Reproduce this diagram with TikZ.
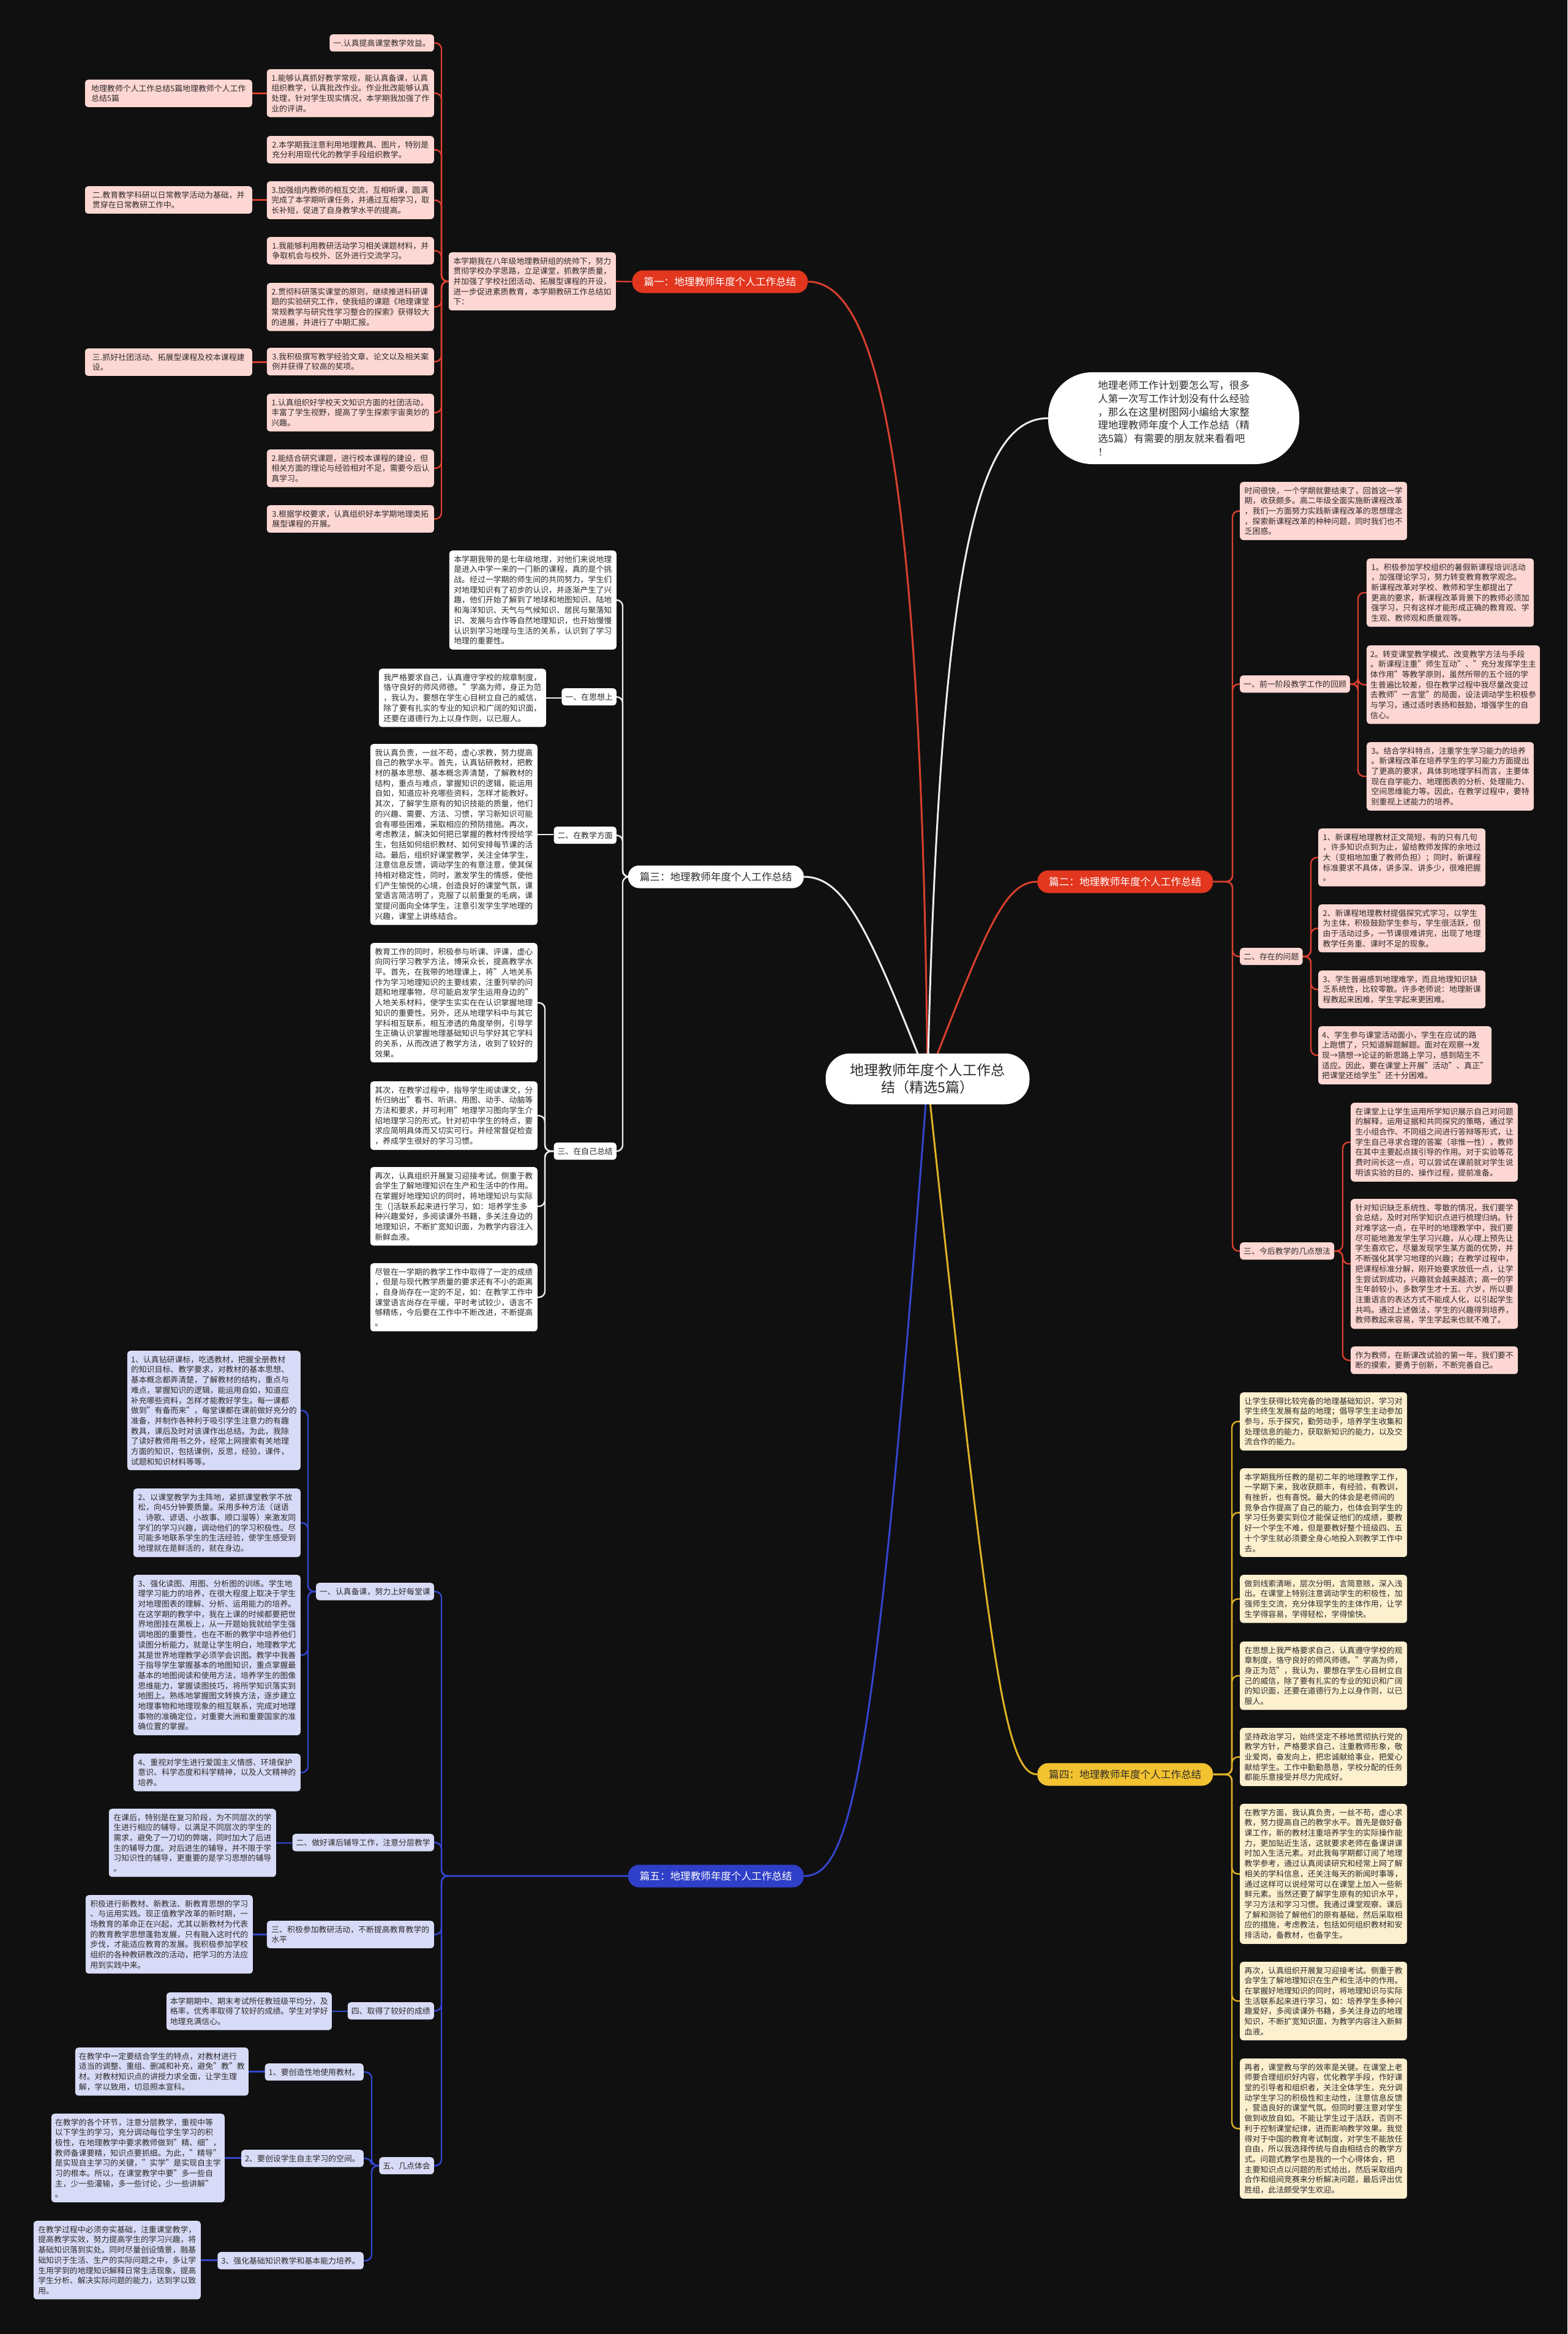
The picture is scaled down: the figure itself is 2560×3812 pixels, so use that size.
\documentclass[tikz,border=0pt]{standalone}
\usepackage{fontspec}
\setmainfont{Noto Sans CJK SC}
\pgfdeclarelayer{bottom}
\pgfdeclarelayer{lines}
\pgfsetlayers{bottom,lines,main}
\definecolor{bgc}{HTML}{101010}
\definecolor{redc}{HTML}{E2361F}
\definecolor{redl}{HTML}{D9402E}
\definecolor{pinkf}{HTML}{FDD7D3}
\definecolor{txtc}{HTML}{2E2B2B}
\definecolor{whl}{HTML}{EDEDED}
\definecolor{goldc}{HTML}{F2C230}
\definecolor{goldl}{HTML}{E0B225}
\definecolor{creamf}{HTML}{FCF0CF}
\definecolor{bluec}{HTML}{2F3FC8}
\definecolor{bluel}{HTML}{3446CF}
\definecolor{lavf}{HTML}{D8DBF7}
\newcommand\fsbox{\fontsize{12.9}{16.7}\selectfont}
\tikzset{
 box/.style={rounded corners=5pt, inner xsep=6pt, inner ysep=8pt, align=left, font=\fsbox, text=txtc},
 pbox/.style={box, fill=pinkf},
 wbox/.style={box, fill=white},
 cbox/.style={box, fill=creamf},
 lbox/.style={box, fill=lavf},
 wide/.style={minimum width=273pt},
 lab/.style={rounded corners=18pt, minimum height=37pt, inner xsep=19pt, font=\fontsize{16.6}{20}\selectfont},
 rcon/.style={draw=redl, line width=2.4pt, rounded corners=10pt},
 wcon/.style={draw=whl, line width=2.4pt, rounded corners=10pt},
 ycon/.style={draw=goldl, line width=2.4pt, rounded corners=10pt},
 bcon/.style={draw=bluel, line width=2.4pt, rounded corners=10pt},
 mainl/.style={line width=3pt},
}
\begin{document}
\begin{tikzpicture}[x=1pt,y=-1pt]
\begin{pgfonlayer}{bottom}
\fill[bgc] (0,0) rectangle (2560,3812);
\end{pgfonlayer}
\useasboundingbox (0,0) rectangle (2560,3812);

% ---------- centre ----------
\node[fill=white, rounded corners=40pt, minimum width=333pt, minimum height=83pt, align=center, text=txtc,
  font=\fontsize{23}{28}\selectfont] (C) at (1515,1762) {地理教师年度个人工作总\\结（精选5篇）};
\node[fill=white, rounded corners=72pt, minimum width=410pt, minimum height=150pt, align=left, text=txtc,
  font=\fontsize{16.5}{21.7}\selectfont] (IB) at (1917,683) {地理老师工作计划要怎么写，很多\\人第一次写工作计划没有什么经验\\，那么在这里树图网小编给大家整\\理地理教师年度个人工作总结（精\\选5篇）有需要的朋友就来看看吧\\！};

% ---------- labels ----------
\node[lab, fill=redc, text=white] (L1) at (1176,460) {篇一：地理教师年度个人工作总结};
\node[lab, fill=redc, text=white, anchor=west] (L2) at (1694,1440) {篇二：地理教师年度个人工作总结};
\node[lab, fill=white, text=txtc, anchor=east] (L3) at (1313,1432) {篇三：地理教师年度个人工作总结};
\node[lab, fill=goldc, text=txtc, anchor=west] (L4) at (1694,2898) {篇四：地理教师年度个人工作总结};
\node[lab, fill=bluec, text=white, anchor=east] (L5) at (1313,3064) {篇五：地理教师年度个人工作总结};

% ---------- 篇一 ----------
\node[pbox, wide, anchor=north east] (I1) at (1006,412) {本学期我在八年级地理教研组的统帅下，努力\\贯彻学校办学思路，立足课堂，抓教学质量，\\并加强了学校社团活动、拓展型课程的开设，\\进一步促进素质教育，本学期教研工作总结如\\下：};
\node[pbox, anchor=north east] (B1) at (709,56) {一.认真提高课堂教学效益。};
\node[pbox, wide, anchor=north east] (B2) at (709,113) {1.能够认真抓好教学常规，能认真备课，认真\\组织教学，认真批改作业。作业批改能够认真\\处理，针对学生现实情况，本学期我加强了作\\业的评讲。};
\node[pbox, wide, anchor=north east] (B3) at (709,222) {2.本学期我注意利用地理教具、图片，特别是\\充分利用现代化的教学手段组织教学。};
\node[pbox, wide, anchor=north east] (B4) at (709,296) {3.加强组内教师的相互交流，互相听课，圆满\\完成了本学期听课任务，并通过互相学习，取\\长补短，促进了自身教学水平的提高。};
\node[pbox, wide, anchor=north east] (B5) at (709,387) {1.我能够利用教研活动学习相关课题材料，并\\争取机会与校外、区外进行交流学习。};
\node[pbox, wide, anchor=north east] (B6) at (709,462) {2.贯彻科研落实课堂的原则，继续推进科研课\\题的实验研究工作，使我组的课题《地理课堂\\常规教学与研究性学习整合的探索》获得较大\\的进展，并进行了中期汇报。};
\node[pbox, wide, anchor=north east] (B7) at (709,568) {3.我积极撰写教学经验文章、论文以及相关案\\例并获得了较高的奖项。};
\node[pbox, wide, anchor=north east] (B8) at (709,643) {1.认真组织好学校天文知识方面的社团活动，\\丰富了学生视野，提高了学生探索宇宙奥妙的\\兴趣。};
\node[pbox, wide, anchor=north east] (B9) at (709,734) {2.能结合研究课题，进行校本课程的建设，但\\相关方面的理论与经验相对不足，需要今后认\\真学习。};
\node[pbox, wide, anchor=north east] (B10) at (709,825) {3.根据学校要求，认真组织好本学期地理类拓\\展型课程的开展。};
\node[pbox, wide, anchor=north east] (P1) at (412,130) {地理教师个人工作总结5篇地理教师个人工作\\总结5篇};
\node[pbox, wide, anchor=north east] (P2) at (412,304) {二.教育教学科研以日常教学活动为基础，并\\贯穿在日常教研工作中。};
\node[pbox, wide, anchor=north east] (P3) at (412,569) {三.抓好社团活动、拓展型课程及校本课程建\\设。};

% ---------- 篇二 ----------
\node[pbox, wide, anchor=north west] (C1) at (2025,787) {时间很快，一个学期就要结束了，回首这一学\\期，收获颇多。高二年级全面实施新课程改革\\，我们一方面努力实践新课程改革的思想理念\\，探索新课程改革的种种问题，同时我们也不\\乏困惑。};
\node[pbox, anchor=north west] (C2) at (2025,1103) {一、前一阶段教学工作的回顾};
\node[pbox, wide, anchor=north west] (D1) at (2232,912) {1。积极参加学校组织的暑假新课程培训活动\\，加强理论学习，努力转变教育教学观念。\\新课程改革对学校、教师和学生都提出了\\更高的要求，新课程改革背景下的教师必须加\\强学习，只有这样才能形成正确的教育观、学\\生观、教师观和质量观等。};
\node[pbox, wide, anchor=north west] (D2) at (2232,1054) {2。转变课堂教学模式、改变教学方法与手段\\。新课程注重"师生互动"、"充分发挥学生主\\体作用"等教学原则，虽然所带的五个班的学\\生普遍比较差，但在教学过程中我尽量改变过\\去教师"一言堂"的局面，设法调动学生积极参\\与学习，通过适时表扬和鼓励，增强学生的自\\信心。};
\node[pbox, wide, anchor=north west] (D3) at (2232,1212) {3。结合学科特点，注重学生学习能力的培养\\。新课程改革在培养学生的学习能力方面提出\\了更高的要求，具体到地理学科而言，主要体\\现在自学能力、地理图表的分析、处理能力、\\空间思维能力等。因此，在教学过程中，要特\\别重视上述能力的培养。};
\node[pbox, anchor=north west] (C3) at (2025,1548) {二、存在的问题};
\node[pbox, wide, anchor=north west] (E1) at (2153,1353) {1、新课程地理教材正文简短，有的只有几句\\，许多知识点到为止，留给教师发挥的余地过\\大（变相地加重了教师负担）；同时，新课程\\标准要求不具体，讲多深、讲多少，很难把握\\。};
\node[pbox, wide, anchor=north west] (E2) at (2153,1477) {2、新课程地理教材提倡探究式学习，以学生\\为主体，积极鼓励学生参与，学生很活跃，但\\由于活动过多，一节课很难讲完，出现了地理\\教学任务重、课时不足的现象。};
\node[pbox, wide, anchor=north west] (E3) at (2153,1585) {3、学生普遍感到地理难学，而且地理知识缺\\乏系统性，比较零散。许多老师说：地理新课\\程教起来困难，学生学起来更困难。};
\node[pbox, wide, anchor=north west] (E4) at (2153,1676) {4、学生参与课堂活动面小，学生在应试的路\\上跑惯了，只知道解题解题。面对在观察→发\\现→猜想→论证的新思路上学习，感到陌生不\\适应。因此，要在课堂上开展"活动"、真正"\\把课堂还给学生"还十分困难。};
\node[pbox, anchor=north west] (C4) at (2025,2029) {三、今后教学的几点想法};
\node[pbox, wide, anchor=north west] (F1) at (2206,1801) {在课堂上让学生运用所学知识展示自己对问题\\的解释，运用证据和共同探究的策略，通过学\\生小组合作、不同组之间进行答辩等形式，让\\学生自己寻求合理的答案（非惟一性），教师\\在其中主要起点拨引导的作用。对于实验等花\\费时间长这一点，可以尝试在课前就对学生说\\明该实验的目的、操作过程，提前准备。};
\node[pbox, wide, anchor=north west] (F2) at (2206,1958) {针对知识缺乏系统性、零散的情况，我们要学\\会总结，及时对所学知识点进行梳理归纳。针\\对难学这一点，在平时的地理教学中，我们要\\尽可能地激发学生学习兴趣，从心理上预先让\\学生喜欢它，尽量发现学生某方面的优势，并\\不断强化其学习地理的兴趣；在教学过程中，\\把课程标准分解，刚开始要求放低一点，让学\\生尝试到成功，兴趣就会越来越浓；高一的学\\生年龄较小，多数学生才十五、六岁，所以要\\注重语言的表达方式不能成人化，以引起学生\\共鸣。通过上述做法，学生的兴趣得到培养，\\教师教起来容易，学生学起来也就不难了。};
\node[pbox, wide, anchor=north west] (F3) at (2206,2199) {作为教师，在新课改试验的第一年，我们要不\\断的摸索，要勇于创新，不断完善自己。};

% ---------- 篇三 ----------
\node[wbox, wide, anchor=north east] (G0) at (1007,899) {本学期我带的是七年级地理，对他们来说地理\\是进入中学一来的一门新的课程，真的是个挑\\战。经过一学期的师生间的共同努力，学生们\\对地理知识有了初步的认识，并逐渐产生了兴\\趣，他们开始了解到了地球和地图知识、陆地\\和海洋知识、天气与气候知识、居民与聚落知\\识、发展与合作等自然地理知识，也开始慢慢\\认识到学习地理与生活的关系，认识到了学习\\地理的重要性。};
\node[wbox, anchor=north east] (G1) at (1007,1124) {一、在思想上};
\node[wbox, wide, anchor=north east] (G1a) at (892,1092) {我严格要求自己，认真遵守学校的规章制度，\\恪守良好的师风师德。"学高为师，身正为范\\，我认为，要想在学生心目树立自己的威信，\\除了要有扎实的专业的知识和广阔的知识面，\\还要在道德行为上以身作则，以已服人。};
\node[wbox, anchor=north east] (G2) at (1007,1350) {二、在教学方面};
\node[wbox, wide, anchor=north east] (G2a) at (878,1215) {我认真负责，一丝不苟，虚心求教，努力提高\\自己的教学水平。首先，认真钻研教材，把教\\材的基本思想、基本概念弄清楚，了解教材的\\结构，重点与难点，掌握知识的逻辑，能运用\\自如，知道应补充哪些资料，怎样才能教好。\\其次，了解学生原有的知识技能的质量，他们\\的兴趣、需要、方法、习惯，学习新知识可能\\会有哪些困难，采取相应的预防措施。再次，\\考虑教法，解决如何把已掌握的教材传授给学\\生，包括如何组织教材、如何安排每节课的活\\动。最后，组织好课堂教学，关注全体学生，\\注意信息反馈，调动学生的有意注意，使其保\\持相对稳定性，同时，激发学生的情感，使他\\们产生愉悦的心境，创造良好的课堂气氛，课\\堂语言简洁明了，克服了以前重复的毛病，课\\堂提问面向全体学生，注意引发学生学地理的\\兴趣，课堂上讲练结合。};
\node[wbox, anchor=north east] (G3) at (1007,1866) {三、在自己总结};
\node[wbox, wide, anchor=north east] (G3a) at (878,1540) {教育工作的同时，积极参与听课、评课，虚心\\向同行学习教学方法，博采众长，提高教学水\\平。首先，在我带的地理课上，将"人地关系\\作为学习地理知识的主要线索，注重列举的问\\题和地理事物，尽可能启发学生运用身边的"\\人地关系材料，使学生实实在在认识掌握地理\\知识的重要性。另外，还从地理学科中与其它\\学科相互联系，相互渗透的角度举例，引导学\\生正确认识掌握地理基础知识与学好其它学科\\的关系，从而改进了教学方法，收到了较好的\\效果。};
\node[wbox, wide, anchor=north east] (G3b) at (878,1766) {其次，在教学过程中，指导学生阅读课文，分\\析归纳出"看书、听讲、用图、动手、动脑等\\方法和要求，并可利用"地理学习图向学生介\\绍地理学习的形式。针对初中学生的特点，要\\求应简明具体而又切实可行。并经常督促检查\\，养成学生很好的学习习惯。};
\node[wbox, wide, anchor=north east] (G3c) at (878,1906) {再次，认真组织开展复习迎接考试。侧重于教\\会学生了解地理知识在生产和生活中的作用。\\在掌握好地理知识的同时，将地理知识与实际\\生（]活联系起来进行学习，如：培养学生多\\种兴趣爱好，多阅读课外书籍，多关注身边的\\地理知识，不断扩宽知识面，为教学内容注入\\新鲜血液。};
\node[wbox, wide, anchor=north east] (G3d) at (878,2063) {尽管在一学期的教学工作中取得了一定的成绩\\，但是与现代教学质量的要求还有不小的距离\\，自身尚存在一定的不足，如：在教学工作中\\课堂语言尚存在平缓，平时考试较少，语言不\\够精练，今后要在工作中不断改进，不断提高\\。};

% ---------- 篇四 ----------
\node[cbox, wide, anchor=north west] (H1) at (2025,2274) {让学生获得比较完备的地理基础知识，学习对\\学生终生发展有益的地理；倡导学生主动参加\\参与，乐于探究，勤劳动手，培养学生收集和\\处理信息的能力，获取新知识的能力，以及交\\流合作的能力。};
\node[cbox, wide, anchor=north west] (H2) at (2025,2398) {本学期我所任教的是初二年的地理教学工作，\\一学期下来，我收获颇丰，有经验，有教训，\\有挫折，也有喜悦。最大的体会是老师间的\\竞争合作提高了自己的能力，也体会到学生的\\学习任务要实到位才能保证他们的成绩，要教\\好一个学生不难，但是要教好整个班级四、五\\十个学生就必须要全身心地投入到教学工作中\\去。};
\node[cbox, wide, anchor=north west] (H3) at (2025,2572) {做到线索清晰，层次分明，言简意赅，深入浅\\出。在课堂上特别注意调动学生的积极性，加\\强师生交流，充分体现学生的主体作用，让学\\生学得容易，学得轻松，学得愉快。};
\node[cbox, wide, anchor=north west] (H4) at (2025,2681) {在思想上我严格要求自己，认真遵守学校的规\\章制度，恪守良好的师风师德。"学高为师，\\身正为范"，我认为，要想在学生心目树立自\\己的威信，除了要有扎实的专业的知识和广阔\\的知识面，还要在道德行为上以身作则，以已\\服人。};
\node[cbox, wide, anchor=north west] (H5) at (2025,2822) {坚持政治学习，始终坚定不移地贯彻执行党的\\教学方针，严格要求自己，注重教师形象，敬\\业爱岗，奋发向上，把忠诚献给事业，把爱心\\献给学生。工作中勤勤恳恳，学校分配的任务\\都能乐意接受并尽力完成好。};
\node[cbox, wide, anchor=north west] (H6) at (2025,2946) {在教学方面，我认真负责，一丝不苟，虚心求\\教，努力提高自己的教学水平。首先是做好备\\课工作，新的教材注重培养学生的实际操作能\\力，更加贴近生活，这就要求老师在备课讲课\\时加入生活元素。对此我每学期都订阅了地理\\教学参考，通过认真阅读研究和经常上网了解\\相关的学科信息，还关注每天的新闻时事等，\\通过这样可以说经常可以在课堂上加入一些新\\鲜元素。当然还要了解学生原有的知识水平，\\学习方法和学习习惯。我通过课堂观察、课后\\了解和测验了解他们的原有基础，然后采取相\\应的措施，考虑教法，包括如何组织教材和安\\排活动，备教材，也备学生。};
\node[cbox, wide, anchor=north west] (H7) at (2025,3204) {再次，认真组织开展复习迎接考试。侧重于教\\会学生了解地理知识在生产和生活中的作用。\\在掌握好地理知识的同时，将地理知识与实际\\生活联系起来进行学习，如：培养学生多种兴\\趣爱好，多阅读课外书籍，多关注身边的地理\\知识，不断扩宽知识面，为教学内容注入新鲜\\血液。};
\node[cbox, wide, anchor=north west] (H8) at (2025,3362) {再者，课堂教与学的效率是关键。在课堂上老\\师要合理组织好内容，优化教学手段，作好课\\堂的引导者和组织者，关注全体学生，充分调\\动学生学习的积极性和主动性，注意信息反馈\\，营造良好的课堂气氛。但同时要注意对学生\\做到收放自如。不能让学生过于活跃，否则不\\利于控制课堂纪律，进而影响教学效果。我觉\\得对于中国的教育考试制度，对学生不能放任\\自由，所以我选择传统与自由相结合的教学方\\式。问题式教学也是我的一个心得体会，把\\主要知识点以问题的形式给出，然后采取组内\\合作和组间竞赛来分析解决问题，最后评出优\\胜组，此法颇受学生欢迎。};

% ---------- 篇五 ----------
\node[lbox, anchor=north east] (K1) at (709,2585) {一、认真备课，努力上好每堂课};
\node[lbox, wide, anchor=north east] (K1a) at (491,2206) {1、认真钻研课标，吃透教材，把握全册教材\\的知识目标、教学要求，对教材的基本思想、\\基本概念都弄清楚，了解教材的结构，重点与\\难点，掌握知识的逻辑，能运用自如，知道应\\补充哪些资料，怎样才能教好学生。每一课都\\做到"有备而来"，每堂课都在课前做好充分的\\准备，并制作各种利于吸引学生注意力的有趣\\教具，课后及时对该课作出总结。为此，我除\\了读好教师用书之外，经常上网搜索有关地理\\方面的知识，包括课例，反思，经验，课件，\\试题和知识材料等等。};
\node[lbox, wide, anchor=north east] (K1b) at (491,2431) {2、以课堂教学为主阵地，紧抓课堂教学不放\\松，向45分钟要质量。采用多种方法（谜语\\、诗歌、谚语、小故事、顺口溜等）来激发同\\学们的学习兴趣，调动他们的学习积极性。尽\\可能多地联系学生的生活经验，使学生感受到\\地理就在是鲜活的，就在身边。};
\node[lbox, wide, anchor=north east] (K1c) at (491,2572) {3、强化读图、用图、分析图的训练。学生地\\理学习能力的培养，在很大程度上取决于学生\\对地理图表的理解、分析、运用能力的培养。\\在这学期的教学中，我在上课的时候都要把世\\界地图挂在黑板上，从一开题始我就给学生强\\调地图的重要性，也在不断的教学中培养他们\\读图分析能力，就是让学生明白，地理教学尤\\其是世界地理教学必须学会识图。教学中我善\\于指导学生掌握基本的地图知识，重点掌握最\\基本的地图阅读和使用方法，培养学生的图像\\思维能力，掌握读图技巧，将所学知识落实到\\地图上。熟练地掌握图文转换方法，逐步建立\\地理事物和地理现象的相互联系，完成对地理\\事物的准确定位，对重要大洲和重要国家的准\\确位置的掌握。};
\node[lbox, wide, anchor=north east] (K1d) at (491,2864) {4、重视对学生进行爱国主义情感、环境保护\\意识、科学态度和科学精神，以及人文精神的\\培养。};
\node[lbox, anchor=north east] (K2) at (709,2995) {二、做好课后辅导工作，注意分层教学};
\node[lbox, wide, anchor=north east] (K2a) at (451,2954) {在课后，特别是在复习阶段，为不同层次的学\\生进行相应的辅导，以满足不同层次的学生的\\需求，避免了一刀切的弊端，同时加大了后进\\生的辅导力度。对后进生的辅导，并不限于学\\习知识性的辅导，更重要的是学习思想的辅导\\。};
\node[lbox, wide, anchor=north east] (K3) at (709,3137) {三、积极参加教研活动，不断提高教育教学的\\水平};
\node[lbox, wide, anchor=north east] (K3a) at (413,3095) {积极进行新教材、新教法、新教育思想的学习\\、与运用实践。现正值教学改革的新时期，一\\场教育的革命正在兴起，尤其以新教材为代表\\的教育教学思想蓬勃发展，只有融入这时代的\\步伐，才能适应教育的发展。我积极参加学校\\组织的各种教研教改的活动，把学习的方法应\\用到实践中来。};
\node[lbox, anchor=north east] (K4) at (709,3270) {四、取得了较好的成绩};
\node[lbox, anchor=north east] (K4a) at (542,3254) {本学期期中、期末考试所任教班级平均分，及\\格率，优秀率取得了较好的成绩。学生对学好\\地理充满信心。};
\node[lbox, anchor=north east] (K5) at (709,3523) {五、几点体会};
\node[lbox, anchor=north east] (K5a) at (594,3370) {1、要创造性地使用教材。};
\node[lbox, anchor=north east] (K5b) at (594,3511) {2、要创设学生自主学习的空间。};
\node[lbox, anchor=north east] (K5c) at (594,3678) {3、强化基础知识教学和基本能力培养。};
\node[lbox, wide, anchor=north east] (K5aa) at (406,3344) {在教学中一定要结合学生的特点，对教材进行\\适当的调整、重组、删减和补充，避免"教"教\\材。对教材知识点的讲授力求全面，让学生理\\解，学以致用，切忌照本宣科。};
\node[lbox, wide, anchor=north east] (K5ba) at (367,3452) {在教学的各个环节，注意分层教学，重视中等\\以下学生的学习，充分调动每位学生学习的积\\极性，在地理教学中要求教师做到"精、细"，\\教师备课要精，知识点要抓细。为此，"精导"\\是实现自主学习的关键，"实学"是实现自主学\\习的根本。所以，在课堂教学中要"多一些自\\主，少一些灌输，多一些讨论，少一些讲解"\\。};
\node[lbox, wide, anchor=north east] (K5ca) at (328,3627) {在教学过程中必须夯实基础，注重课堂教学，\\提高教学实效，努力提高学生的学习兴趣，将\\基础知识落到实处。同时尽量创设情景，融基\\础知识于生活、生产的实际问题之中，多让学\\生用学到的地理知识解释日常生活现象，提高\\学生分析、解决实际问题的能力，达到学以致\\用。};

% ---------- connectors ----------
\coordinate (s1) at (721,0);
\coordinate (s2) at (2013,0);
\coordinate (s2a) at (2218,0);
\coordinate (s2b) at (2141,0);
\coordinate (s2c) at (2193,0);
\coordinate (s3) at (1017,0);
\coordinate (s3c) at (890,0);
\coordinate (s4) at (2012,0);
\coordinate (s5) at (721,0);
\coordinate (s5a) at (503,0);
\coordinate (s5e) at (607,0);
\begin{pgfonlayer}{lines}
\draw[redl, mainl] (C.center) .. controls (1505,800) and (1440,460) .. (L1.east);
\draw[whl, mainl] (C.center) .. controls (1535,900) and (1600,683) .. (IB.west);
\draw[redl, mainl] (C.center) .. controls (1610,1520) and (1640,1440) .. (L2.west);
\draw[whl, mainl] (C.center) .. controls (1420,1520) and (1380,1432) .. (L3.east);
\draw[goldl, mainl] (C.center) .. controls (1615,2700) and (1640,2898) .. (L4.west);
\draw[bluel, mainl] (C.center) .. controls (1430,2900) and (1390,3064) .. (L5.east);
% 篇一
\draw[rcon] (L1.west) -- (I1.east);
\foreach \c in {B1,B2,B3,B4,B5,B6,B7,B8,B9,B10} \draw[rcon] (I1.west) -- (I1.west -| s1) |- (\c.east);
\draw[rcon] (P1.east) -- (P1.east -| B2.west);
\draw[rcon] (P2.east) -- (P2.east -| B4.west);
\draw[rcon] (P3.east) -- (P3.east -| B7.west);
% 篇二
\foreach \c in {C1,C2,C3,C4} \draw[rcon] (L2.east) -- (L2.east -| s2) |- (\c.west);
\foreach \c in {D1,D2,D3} \draw[rcon] (C2.east) -- (C2.east -| s2a) |- (\c.west);
\foreach \c in {E1,E2,E3,E4} \draw[rcon] (C3.east) -- (C3.east -| s2b) |- (\c.west);
\foreach \c in {F1,F2,F3} \draw[rcon] (C4.east) -- (C4.east -| s2c) |- (\c.west);
% 篇三
\foreach \c in {G0,G1,G2,G3} \draw[wcon] (L3.west) -- (L3.west -| s3) |- (\c.east);
\draw[wcon] (G1a.east) -- (G1a.east -| G1.west);
\draw[wcon] (G2a.east) -- (G2a.east -| G2.west);
\foreach \c in {G3a,G3b,G3c,G3d} \draw[wcon] (G3.west) -- (G3.west -| s3c) |- (\c.east);
% 篇四
\foreach \c in {H1,H2,H3,H4,H5,H6,H7,H8} \draw[ycon] (L4.east) -- (L4.east -| s4) |- (\c.west);
% 篇五
\foreach \c in {K1,K2,K3,K4,K5} \draw[bcon] (L5.west) -- (L5.west -| s5) |- (\c.east);
\foreach \c in {K1a,K1b,K1c,K1d} \draw[bcon] (K1.west) -- (K1.west -| s5a) |- (\c.east);
\draw[bcon] (K2a.east) -- (K2a.east -| K2.west);
\draw[bcon] (K3a.east) -- (K3a.east -| K3.west);
\draw[bcon] (K4a.east) -- (K4a.east -| K4.west);
\foreach \c in {K5a,K5b,K5c} \draw[bcon] (K5.west) -- (K5.west -| s5e) |- (\c.east);
\draw[bcon] (K5aa.east) -- (K5aa.east -| K5a.west);
\draw[bcon] (K5ba.east) -- (K5ba.east -| K5b.west);
\draw[bcon] (K5ca.east) -- (K5ca.east -| K5c.west);
\end{pgfonlayer}
\end{tikzpicture}
\end{document}
